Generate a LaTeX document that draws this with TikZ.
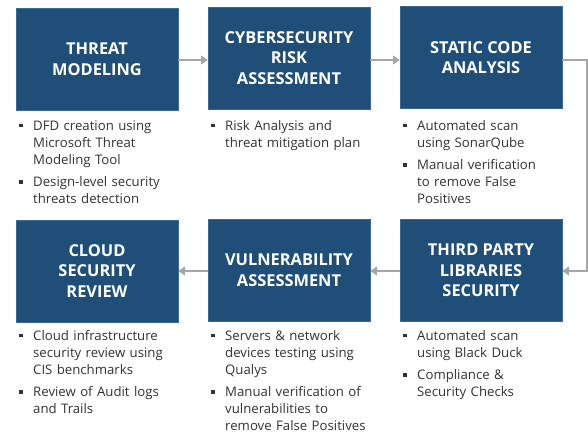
\documentclass[tikz,border=0pt]{standalone}
\usepackage{fontspec}
\setmainfont{Open Sans}
\usetikzlibrary{arrows.meta}
\definecolor{boxblue}{HTML}{1F4E79}
\definecolor{boxedge}{HTML}{3A6A96}
\definecolor{arrowgray}{HTML}{A6A6A6}
\definecolor{bodytext}{HTML}{333333}
\newcommand\bitem[1]{\noindent\makebox[14pt][l]{\rule[2.8pt]{3.5pt}{3.5pt}}\parbox[t]{150pt}{\strut#1\strut}\par}
\newcommand\bgap{\vspace{4.5pt}}
\tikzset{
  stage/.style={fill=boxblue, draw=boxedge, line width=0.6pt, minimum width=162pt, minimum height=102pt,
    align=center, text=white, font=\fontsize{16.4}{20.5}\selectfont\bfseries, inner sep=0pt},
  blist/.style={anchor=north west, text width=166pt, inner sep=0pt, text=bodytext,
    font=\fontsize{13.2}{17}\selectfont},
  flow/.style={draw=arrowgray, line width=2.6pt, -{Triangle[length=6.5pt,width=8.5pt]}}
}
\begin{document}
\begin{tikzpicture}[x=1pt,y=-1pt]
\useasboundingbox (0,0) rectangle (588,433);
\node[stage] (tm) at (97,59) {THREAT\\MODELING};
\node[stage] (cra) at (289,58) {CYBERSECURITY\\RISK\\ASSESSMENT};
\node[stage] (sca) at (481,57.5) {STATIC CODE\\ANALYSIS};
\node[stage] (csr) at (97,271) {CLOUD\\SECURITY\\REVIEW};
\node[stage] (va) at (289,270) {VULNERABILITY\\ASSESSMENT};
\node[stage] (tpl) at (481,270.5) {THIRD PARTY\\LIBRARIES\\SECURITY};

\node[blist] (l1) at (19,118) {\bitem{DFD creation using\\ Microsoft Threat\\ Modeling Tool}\bgap\bitem{Design-level security\\ threats detection}};
\node[blist] (l2) at (211,118) {\bitem{Risk Analysis and\\ threat mitigation plan}};
\node[blist] (l3) at (403,118) {\bitem{Automated scan\\ using SonarQube}\bgap\bitem{Manual verification\\ to remove False\\ Positives}};
\node[blist] (l4) at (19,328) {\bitem{Cloud infrastructure\\ security review using\\ CIS benchmarks}\bgap\bitem{Review of Audit logs\\ and Trails}};
\node[blist] (l5) at (211,328) {\bitem{Servers \& network\\ devices testing using\\ Qualys}\bgap\bitem{Manual verification of\\ vulnerabilities to\\ remove False Positives}};
\node[blist] (l6) at (403,328) {\bitem{Automated scan\\ using Black Duck}\bgap\bitem{Compliance \&\\ Security Checks}};

\coordinate (c1) at (587,60);
\coordinate (c2) at (587,271);
\draw[flow] (tm.east |- 0,60) -- (cra.west |- 0,60);
\draw[flow] (cra.east |- 0,60) -- (sca.west |- 0,60);
\draw[flow] (sca.east |- c1) -- (c1) -- (c2) -- (tpl.east |- c2);
\draw[flow] (tpl.west |- c2) -- (va.east |- c2);
\draw[flow] (va.west |- c2) -- (csr.east |- c2);
\end{tikzpicture}
\end{document}
